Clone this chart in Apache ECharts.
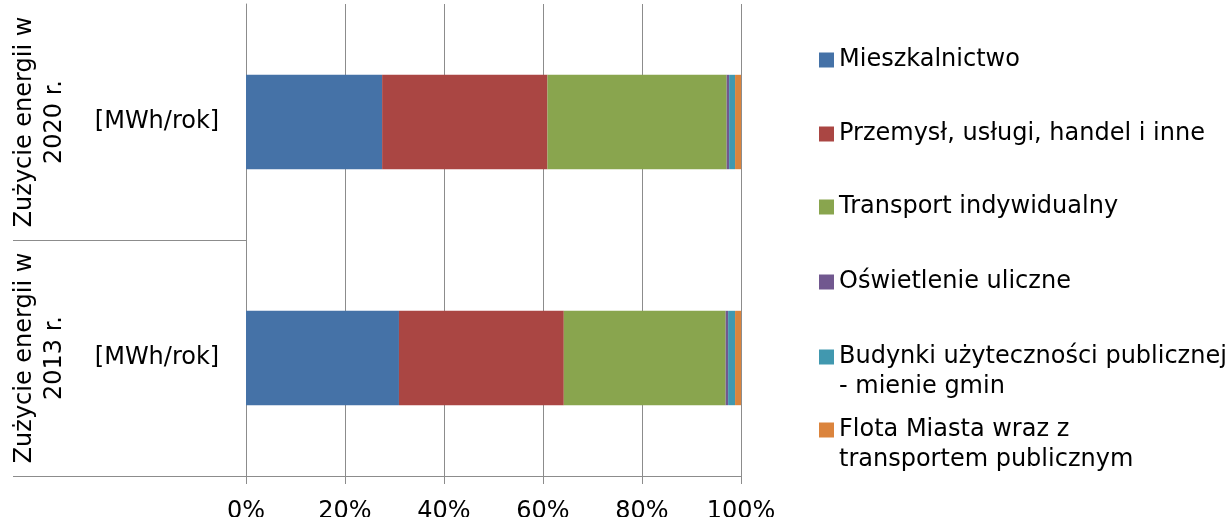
<!DOCTYPE html>
<html><head><meta charset="utf-8">
<script src="https://cdn.jsdelivr.net/npm/echarts@6/dist/echarts.min.js"></script>
<style>html,body{margin:0;padding:0;background:#fff}#c{width:1229px;height:517px}</style>
</head><body><div id="c"></div>
<script>
const categories = ['2013', '2020'];
const outerLabels = ['Zużycie energii w\n2013 r.', 'Zużycie energii w\n2020 r.'];
const innerLabels = ['[MWh/rok]', '[MWh/rok]'];
const seriesNames = [
  'Mieszkalnictwo',
  'Przemysł, usługi, handel i inne',
  'Transport indywidualny',
  'Oświetlenie uliczne',
  'Budynki użyteczności publicznej - mienie gmin',
  'Flota Miasta wraz z transportem publicznym'
];
const legendLabels = [
  'Mieszkalnictwo',
  'Przemysł, usługi, handel i inne',
  'Transport indywidualny',
  'Oświetlenie uliczne',
  'Budynki użyteczności publicznej\n- mienie gmin',
  'Flota Miasta wraz z\ntransportem publicznym'
];
const seriesColors = ['#4572A7', '#AA4643', '#89A54E', '#71588F', '#4198AF', '#DB843D'];
// shares in % (2013, 2020)
const mieszkalnictwo = [30.9, 27.5];
const przemysl = [33.3, 33.4];
const transport = [32.7, 36.2];
const oswietlenie = [0.5, 0.5];
const budynki = [1.4, 1.2];
const flota = [1.2, 1.2];
const seriesValues = [mieszkalnictwo, przemysl, transport, oswietlenie, budynki, flota];
const xMin = 0, xMax = 100, xStep = 20;

const FONT = 'DejaVu Sans';
const GRAY = '#8c8c8c';
const legendTops = [45, 119, 192, 267, 312, 385];

const chart = echarts.init(document.getElementById('c'), null, {renderer: 'canvas'});

const legends = seriesNames.map((n, i) => {
  const multi = legendLabels[i].indexOf('\n') >= 0;
  return {
    show: true,
    left: 819,
    top: legendTops[i],
    orient: 'vertical',
    padding: 0,
    itemWidth: 15,
    itemHeight: 15,
    icon: 'rect',
    selectedMode: false,
    data: [n],
    // multi-line entries: a leading empty line keeps the first line level with the icon
    formatter: name => (multi ? '\n' : '') + legendLabels[seriesNames.indexOf(name)],
    textStyle: {fontFamily: FONT, fontSize: 24, color: '#000', lineHeight: 30}
  };
});

chart.setOption({
  animation: false,
  backgroundColor: '#fff',
  color: seriesColors,
  legend: legends,
  grid: [
    {left: 246, right: 1229 - 741, top: 4, bottom: 41, outerBoundsMode: 'none', containLabel: false},
    {left: 13, width: 233, top: 4, bottom: 41, outerBoundsMode: 'none', containLabel: false}
  ],
  xAxis: [
    {
      gridIndex: 0, type: 'value', min: xMin, max: xMax, interval: xStep,
      axisLine: {show: true, lineStyle: {color: GRAY, width: 1}},
      axisTick: {show: true, length: 8, lineStyle: {color: GRAY}},
      splitLine: {show: true, lineStyle: {color: GRAY, width: 1}},
      axisLabel: {formatter: '{value}%', fontFamily: FONT, fontSize: 24, color: '#000', margin: 24}
    },
    {gridIndex: 1, type: 'value', show: false, min: 0, max: 1}
  ],
  yAxis: [
    {
      gridIndex: 0, type: 'category', data: categories,
      axisLine: {show: true, lineStyle: {color: GRAY, width: 1}},
      axisTick: {show: false},
      splitLine: {show: false},
      axisLabel: {
        interval: 0, formatter: (v, i) => innerLabels[i],
        fontFamily: FONT, fontSize: 24, color: '#000', align: 'center', margin: 89
      }
    },
    {
      gridIndex: 1, type: 'category', data: categories, position: 'left', offset: -56.5,
      axisLine: {show: false},
      axisTick: {show: false},
      splitLine: {show: true, showMinLine: true, showMaxLine: false, lineStyle: {color: GRAY, width: 1}},
      axisLabel: {
        interval: 0, rotate: 90, margin: 0, formatter: (v, i) => outerLabels[i],
        fontFamily: FONT, fontSize: 24, color: '#000', lineHeight: 30
      }
    }
  ],
  series: seriesNames.map((n, i) => ({
    name: n,
    type: 'bar',
    stack: 'total',
    xAxisIndex: 0,
    yAxisIndex: 0,
    barWidth: '40%',
    itemStyle: {color: seriesColors[i]},
    data: seriesValues[i]
  }))
});
</script>
</body></html>
